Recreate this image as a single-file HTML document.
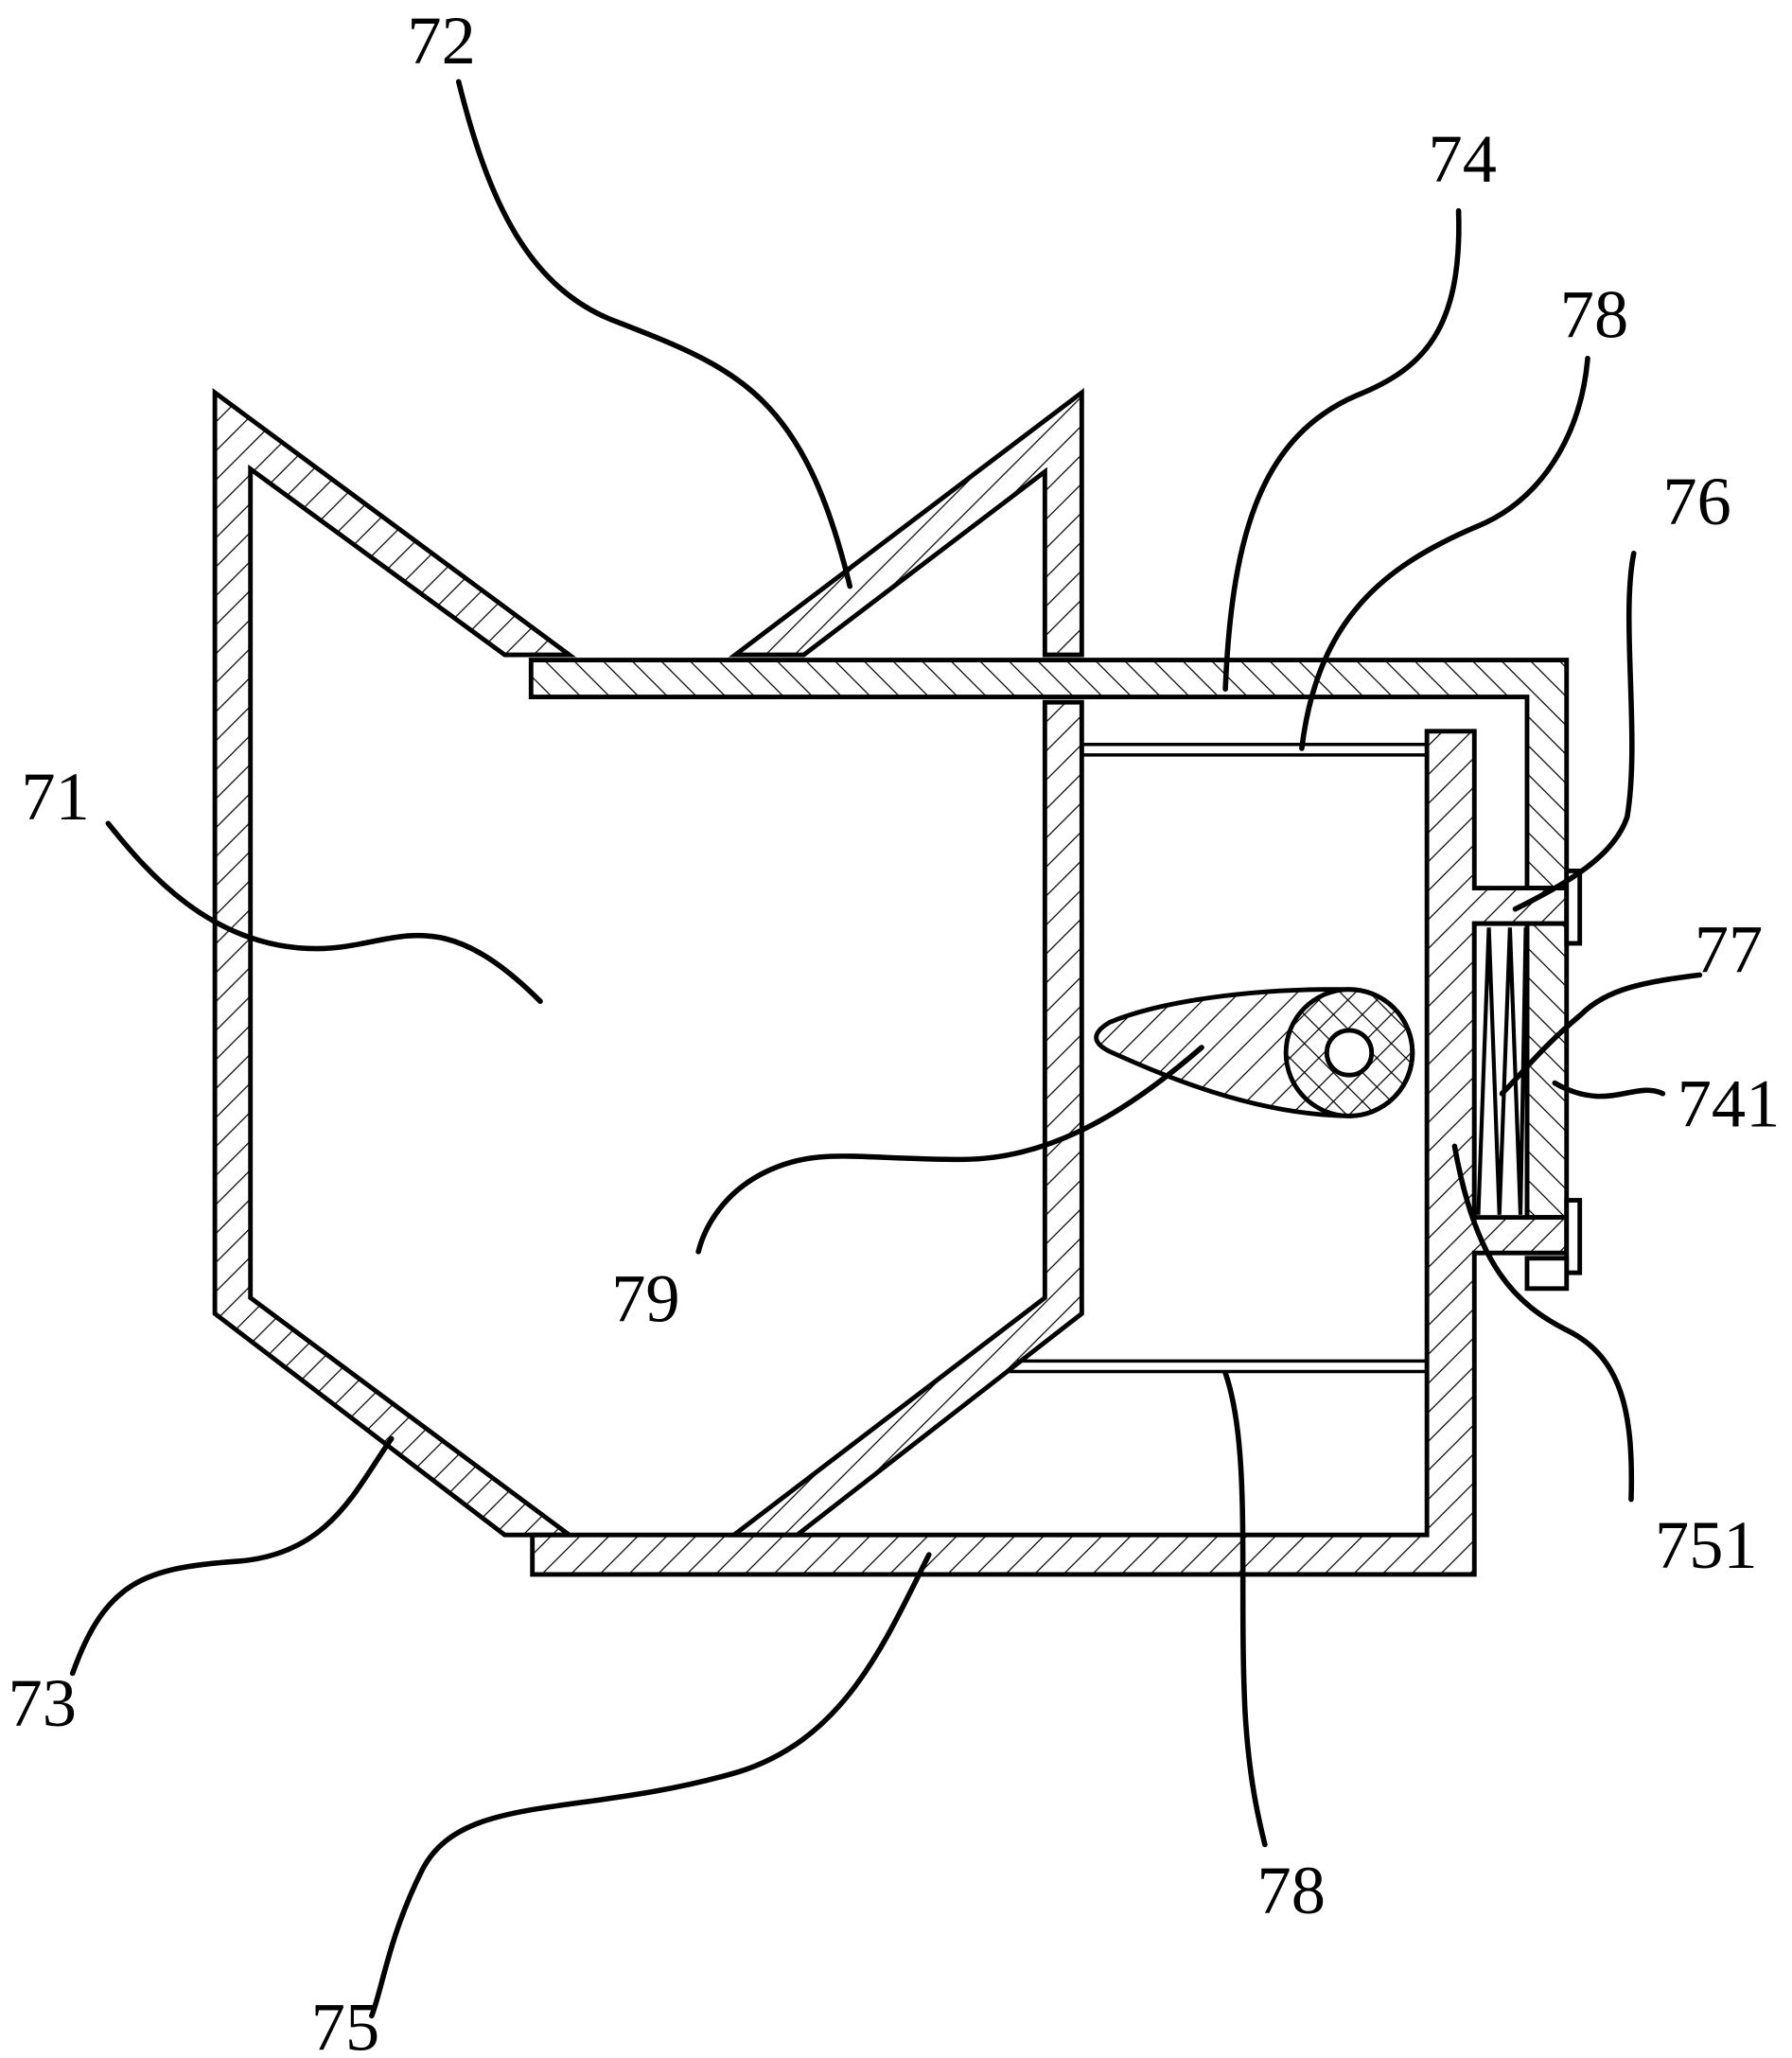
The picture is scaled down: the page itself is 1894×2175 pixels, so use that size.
<!DOCTYPE html>
<html><head><meta charset="utf-8"><style>html,body{margin:0;padding:0;background:#fff}svg{display:block}</style></head>
<body>
<svg width="1894" height="2175" viewBox="0 0 1360 1562" xmlns="http://www.w3.org/2000/svg">
<defs>
<pattern id="hf" patternUnits="userSpaceOnUse" width="22" height="22"><line x1="0" y1="22" x2="22" y2="0" stroke="#000" stroke-width="0.9"/><line x1="-11" y1="11" x2="11" y2="-11" stroke="#000" stroke-width="0.9"/><line x1="11" y1="33" x2="33" y2="11" stroke="#000" stroke-width="0.9"/></pattern>
<pattern id="hb" patternUnits="userSpaceOnUse" width="22" height="22"><line x1="0" y1="0" x2="22" y2="22" stroke="#000" stroke-width="0.9"/><line x1="-11" y1="11" x2="11" y2="33" stroke="#000" stroke-width="0.9"/><line x1="11" y1="-11" x2="33" y2="11" stroke="#000" stroke-width="0.9"/></pattern>
</defs>
<g stroke="#000" stroke-width="3.5" stroke-linejoin="miter">
<polygon fill="url(#hf)" points="163,298 432,497 383,497 190,356 190,985 432,1165 383,1165 163,997"/>
<polygon fill="url(#hf)" points="558,497 821,298 821,497 793,497 793,358 610,497"/>
<polygon fill="url(#hf)" points="793,533 821,533 821,997 605,1165 557,1165 793,985"/>
<polygon fill="url(#hb)" points="403,501 1189,501 1189,674 1159,674 1159,529 403,529"/>
<polygon fill="url(#hf)" points="404,1165 1083,1165 1083,555 1119,555 1119,674 1189,674 1189,701 1119,701 1119,924 1189,924 1189,951 1119,951 1119,1195 404,1195"/>
<rect x="1159" y="701" width="30" height="223" fill="url(#hb)"/>
<rect x="1119" y="701" width="40" height="223" fill="#fff"/>
<rect x="1189" y="661" width="10" height="55" fill="#fff"/>
<rect x="1189" y="911" width="10" height="55" fill="#fff"/>
<rect x="1159" y="955" width="30" height="23" fill="#fff"/>
<path fill="none" stroke-width="3" d="M1122,922 L1130,704 L1138,922 L1146,704 L1154,922 L1158,704"/>
</g>
<g stroke="#000" stroke-width="2.5">
<line x1="821" y1="565" x2="1083" y2="565"/><line x1="821" y1="573" x2="1083" y2="573"/>
<line x1="772" y1="1033" x2="1083" y2="1033"/><line x1="764" y1="1041" x2="1083" y2="1041"/>
</g>
<g stroke="#000" stroke-width="3.5">
<path fill="url(#hf)" d="M1024,751 C950,750 880,760 842,776 Q822,788 842,798 C880,815 950,846 1024,847 A48,48 0 0 0 1024,751 Z"/>
<circle cx="1024" cy="799" r="48" fill="url(#hb)"/>
<circle cx="1024" cy="799" r="17" fill="#fff"/>
</g>
<g fill="none" stroke="#000" stroke-width="4" stroke-linecap="round">
<path d="M348,62 C370,150 400,220 470,245 C560,280 610,300 645,445"/>
<path d="M1107,160 C1110,250 1080,280 1030,300 C960,330 935,400 930,523"/>
<path d="M1205,272 C1200,330 1170,380 1120,400 C1050,430 1000,470 988,568"/>
<path d="M1240,420 C1230,470 1245,560 1235,620 C1225,650 1190,670 1150,690"/>
<path d="M82,625 C110,660 160,720 240,720 C300,720 330,680 410,760"/>
<path d="M1290,740 C1250,745 1220,750 1200,770 C1170,795 1155,815 1140,830"/>
<path d="M1262,830 C1240,820 1220,845 1180,822"/>
<path d="M912,795 C860,840 800,880 730,880 C650,880 620,870 580,890 C550,905 535,930 530,950"/>
<path d="M1238,1138 C1240,1070 1230,1030 1190,1010 C1150,990 1120,960 1104,870"/>
<path d="M297,1092 C270,1130 250,1180 180,1185 C110,1190 80,1200 55,1270"/>
<path d="M930,1042 C950,1100 940,1200 945,1300 C948,1350 955,1380 960,1400"/>
<path d="M705,1180 C670,1250 640,1320 560,1345 C440,1380 350,1360 320,1420 C295,1470 290,1510 282,1530"/>
</g>
<g font-family="Liberation Serif, serif" font-size="52" text-anchor="middle" fill="#000">
<text x="335" y="48">72</text>
<text x="1110" y="138">74</text>
<text x="1210" y="256">78</text>
<text x="1288" y="398">76</text>
<text x="42" y="622">71</text>
<text x="1312" y="738">77</text>
<text x="1312" y="855">741</text>
<text x="490" y="1003">79</text>
<text x="1295" y="1190">751</text>
<text x="32" y="1310">73</text>
<text x="980" y="1452">78</text>
<text x="262" y="1556">75</text>
</g>
</svg>
</body></html>
